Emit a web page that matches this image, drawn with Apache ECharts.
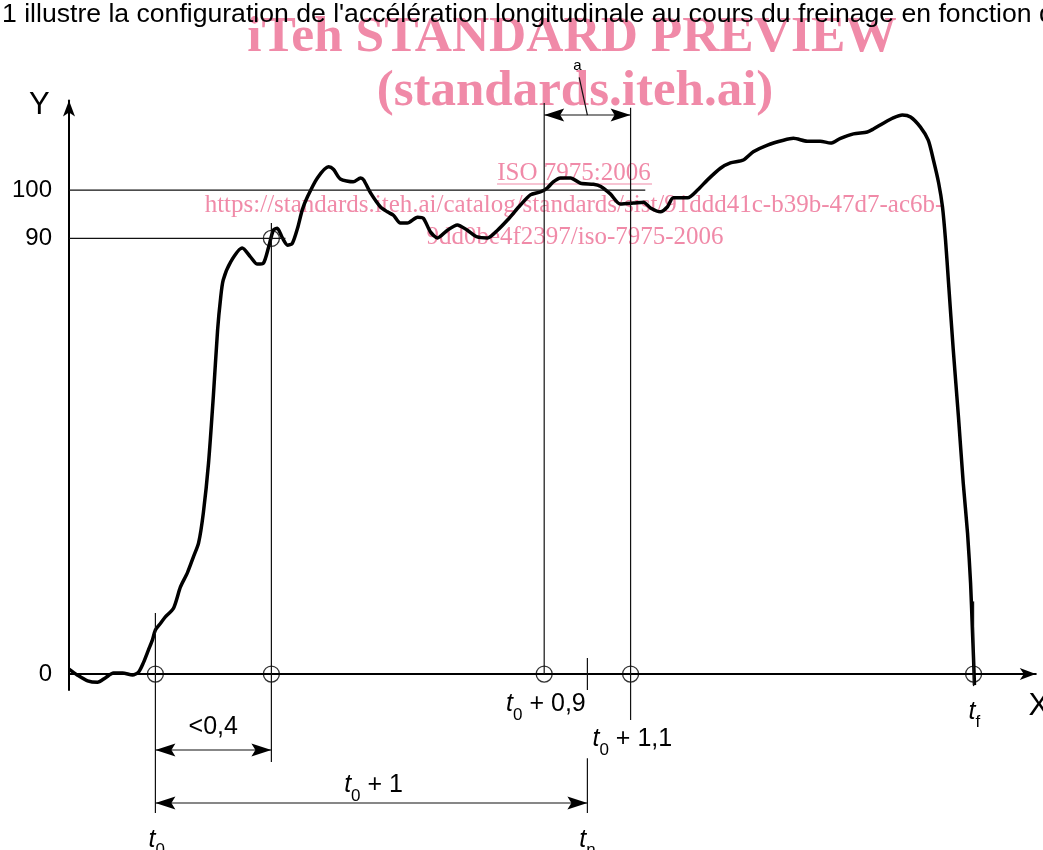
<!DOCTYPE html>
<html><head><meta charset="utf-8">
<script src="https://cdn.jsdelivr.net/npm/echarts@6/dist/echarts.min.js"></script>
<style>html,body{margin:0;padding:0;background:#fff}#main{width:1043px;height:850px}</style>
</head><body><div id="main"></div>
<script>
// time relative to t0 (s)
const curveT = [-0.2,-0.181,-0.157,-0.134,-0.116,-0.097,-0.076,-0.053,-0.039,-0.028,-0.016,-0.007,0,0.012,0.023,0.042,0.058,0.074,0.088,0.100,0.111,0.123,0.134,0.144,0.151,0.157,0.174,0.201,0.220,0.236,0.250,0.262,0.273,0.282,0.294,0.306,0.317,0.329,0.340,0.352,0.375,0.401,0.412,0.428,0.458,0.475,0.482,0.498,0.521,0.537,0.551,0.567,0.583,0.607,0.620,0.637,0.653,0.676,0.699,0.722,0.745,0.769,0.792,0.815,0.845,0.868,0.891,0.907,0.921,0.938,0.961,0.984,1.014,1.030,1.053,1.076,1.107,1.130,1.146,1.169,1.185,1.199,1.232,1.255,1.278,1.308,1.331,1.361,1.384,1.417,1.454,1.477,1.509,1.539,1.563,1.586,1.616,1.648,1.662,1.685,1.708,1.729,1.748,1.771,1.789,1.801,1.813,1.822,1.829,1.836,1.847,1.859,1.870,1.880,1.887,1.891,1.894,1.896];
// deceleration, % of mean
const curveY = [1.0,-0.2,-1.4,-1.7,-0.8,0.2,0.2,-0.2,0.4,2.3,5.0,7.0,9.1,10.5,11.8,13.6,18.0,20.9,24.2,27.1,33.3,43.6,57.2,71.1,77.7,81.4,85.1,88.0,86.2,84.7,84.9,88.2,91.7,92.1,90.1,88.6,89.0,92.1,95.9,98.6,102.5,104.8,104.3,102.3,101.7,102.5,102.1,99.4,96.5,95.5,94.8,93.2,93.2,94.4,94.2,91.3,90.1,91.7,92.8,91.7,90.3,90.1,91.7,93.8,96.9,99.0,99.6,100.4,101.7,102.5,102.5,101.4,101.2,100.8,99.2,97.1,97.3,97.5,96.3,95.5,96.5,98.4,98.4,100.0,102.1,104.5,105.6,106.2,107.9,109.3,110.3,110.7,110.1,110.1,109.7,110.7,111.6,112.0,112.6,113.8,114.9,115.5,115.1,113.0,110.3,106.2,101.5,96.5,89.7,80.8,66.9,53.1,39.5,29.1,18.8,9.7,2.9,-2.3];

const yTickValues = [0, 90, 100];
const markerT = [0, 0.2685, 0.9, 1.1, 1.894];
const markerY = [0, 0, 0, 0, 0];
const crossT = 0.2685, crossY = 90;

// guide lines [x, yFrom, yTo] and [y, xFrom, xTo]
const guideV = [[0, 12.6, -28.7], [0.2685, 93.2, -18.2], [0.9, 118, 0], [1.1, 117, -9.5], [1.0, 3.3, -3.3], [1.0, -17.4, -28.7], [1.894, 15, -2.5]];
const guideH = [[100, -0.2, 1.134], [90, -0.2, 0.301]];
// dimension arrows [xFrom, xTo, y]
const dims = [[0.9, 1.1, 115.5], [0, 0.2685, -15.7], [0, 1.0, -26.65]];
const leaderA = [[0.981, 123.3], [1.0, 115.5]];

const labels = [
  {x: 0.904, y: -6.3, text: '{i|t}{s|0}{n| + 0,9}'},
  {x: 1.104, y: -13.5, text: '{i|t}{s|0}{n| + 1,1}'},
  {x: 0.505, y: -22.9, text: '{i|t}{s|0}{n| + 1}'},
  {x: 0.134, y: -11, text: '{n|<0,4}'},
  {x: 0.003, y: -34.2, text: '{i|t}{s|0}'},
  {x: 1.0, y: -34.2, text: '{i|t}{s|n}'},
  {x: 1.896, y: -7.8, text: '{i|t}{s|f}'}
];

const SANS = '"Liberation Sans", Arial, sans-serif';
const SERIF = '"Liberation Serif", "Times New Roman", serif';
const PINK = '#f08aa8';

const chart = echarts.init(document.getElementById('main'), null, {renderer: 'canvas'});
const curve = curveT.map((t, i) => [t, curveY[i]]);
const markers = markerT.map((t, i) => [t, markerY[i]]).concat([[crossT, crossY]]);

chart.setOption({
  animation: false,
  backgroundColor: '#fff',
  grid: {left: 69, right: 7.2, top: 100.5, bottom: 160, containLabel: false},
  xAxis: {
    type: 'value', min: -0.2, max: 2.038,
    axisLine: {onZero: true, lineStyle: {color: '#000', width: 2}, symbol: ['none', 'arrow'], symbolSize: [9, 16]},
    axisTick: {show: false}, axisLabel: {show: false}, splitLine: {show: false}
  },
  yAxis: {
    type: 'value', min: -3.3, max: 118.5,
    axisLine: {show: true, onZero: false, lineStyle: {color: '#000', width: 2}, symbol: ['none', 'arrow'], symbolSize: [9, 16]},
    axisTick: {show: false}, splitLine: {show: false},
    axisLabel: {customValues: yTickValues, fontSize: 24, color: '#000', fontFamily: SANS, margin: 17}
  },
  series: [
    {type: 'line', data: curve, showSymbol: false, smooth: 0.25, lineStyle: {color: '#000', width: 3.5}, z: 3},
    {type: 'scatter', data: markers, symbol: 'circle', symbolSize: 16,
      itemStyle: {color: 'rgba(0,0,0,0)', borderColor: '#000', borderWidth: 1.3}, z: 4}
  ]
});

function build() {
  const P = (x, y) => chart.convertToPixel({gridIndex: 0}, [x, y]);
  const els = [];
  const seg = (x1, y1, x2, y2) => {
    const a = P(x1, y1), b = P(x2, y2);
    els.push({type: 'line', silent: true, z: 5, shape: {x1: a[0], y1: a[1], x2: b[0], y2: b[1]}, style: {stroke: '#111', lineWidth: 1.2}});
  };
  const head = (x, y, dir) => {
    const p = P(x, y), L = 20, W = 6.5, N = 16;
    els.push({type: 'polygon', silent: true, z: 6, shape: {points: [[p[0], p[1]], [p[0] - dir * L, p[1] - W], [p[0] - dir * N, p[1]], [p[0] - dir * L, p[1] + W]]}, style: {fill: '#000'}});
  };
  guideV.forEach(g => seg(g[0], g[1], g[0], g[2]));
  guideH.forEach(g => seg(g[1], g[0], g[2], g[0]));
  dims.forEach(d => { seg(d[0], d[2], d[1], d[2]); head(d[0], d[2], -1); head(d[1], d[2], 1); });
  seg(leaderA[0][0], leaderA[0][1], leaderA[1][0], leaderA[1][1]);
  const rich = {
    i: {fontStyle: 'italic', fontSize: 25, fontFamily: SANS, fill: '#000', lineHeight: 28},
    s: {fontSize: 17, fontFamily: SANS, fill: '#000', lineHeight: 28, padding: [22, 0, 0, 0]},
    n: {fontSize: 25, fontFamily: SANS, fill: '#000', lineHeight: 28}
  };
  labels.forEach(l => {
    const p = P(l.x, l.y);
    els.push({type: 'text', silent: true, z: 7, x: p[0], y: p[1], style: {text: l.text, rich: rich, align: 'center', verticalAlign: 'middle', fill: '#000'}});
  });
  const pa = P(0.977, 125.6);
  els.push({type: 'text', z: 7, x: pa[0], y: pa[1], style: {text: 'a', fontSize: 15, fontFamily: SANS, fill: '#000', align: 'center', verticalAlign: 'middle'}});
  const px = P(2.045, -6.6), py = P(-0.2685, 117.4);
  els.push({type: 'text', z: 7, x: px[0], y: px[1], style: {text: 'X', fontSize: 31, fontFamily: SANS, fill: '#000', align: 'center', verticalAlign: 'middle'}});
  els.push({type: 'text', z: 7, x: py[0], y: py[1], style: {text: 'Y', fontSize: 31, fontFamily: SANS, fill: '#000', align: 'center', verticalAlign: 'middle'}});
  // page text and watermark
  els.push({type: 'text', z: 1, x: 2, y: 15, style: {text: "1 illustre la configuration de l'accélération longitudinale au cours du freinage en fonction du temps", fontSize: 26.6, fontFamily: SANS, fill: '#000', align: 'left', verticalAlign: 'middle'}});
  const wm = (t, x, y, size, bold) => els.push({type: 'text', z: 0, x: x, y: y, style: {text: t, fontSize: size, fontWeight: bold ? 'bold' : 'normal', fontFamily: SERIF, fill: PINK, align: 'center', verticalAlign: 'middle'}});
  wm('iTeh STANDARD PREVIEW', 572, 38, 51.5, true);
  wm('(standards.iteh.ai)', 575, 92, 51, true);
  wm('ISO 7975:2006', 574, 173, 25, false);
  els.push({type: 'line', z: 0, shape: {x1: 497, y1: 184, x2: 652, y2: 184}, style: {stroke: PINK, lineWidth: 1.2}});
  wm('https://standards.iteh.ai/catalog/standards/sist/91ddd41c-b39b-47d7-ac6b-', 574, 205, 25, false);
  wm('9dd0be4f2397/iso-7975-2006', 575, 237, 25, false);
  chart.setOption({graphic: {elements: els}});
}
build();
</script></body></html>
